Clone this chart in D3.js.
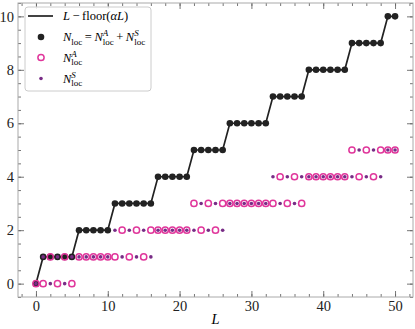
<!DOCTYPE html>
<html>
<head>
<meta charset="utf-8">
<script src="https://cdn.jsdelivr.net/npm/d3@7"></script>
<style>
  body { margin: 0; background: #fff; }
  svg { display: block; font-family: "Liberation Serif", "DejaVu Serif", serif; }
</style>
</head>
<body>
<script>
// system sizes L = 0..50
var L = d3.range(0, 51);

// N_loc = L - floor(alpha L)
var nLoc = [0, 1,1,1,1,1, 2,2,2,2,2, 3,3,3,3,3,3, 4,4,4,4,4, 5,5,5,5,5,
            6,6,6,6,6,6, 7,7,7,7,7, 8,8,8,8,8,8, 9,9,9,9,9, 10,10];
// N_loc^A (open circles)
var nA = [0,0,1,0,1,0, 1,1,1,1,1, 1,2,1,2,1,2, 2,2,2,2,2, 3,2,3,2,3,
          3,3,3,3,3,3, 3,4,3,4,3, 4,4,4,4,4,4, 5,4,5,4,5, 5,5];
// N_loc^S (small dots)
var nS = [0,1,0,1,0,1, 1,1,1,1,1, 2,1,2,1,2,1, 2,2,2,2,2, 2,3,2,3,2,
          3,3,3,3,3,3, 4,3,4,3,4, 4,4,4,4,4,4, 4,5,4,5,4, 5,5];

var xMajor = [0, 10, 20, 30, 40, 50];
var xMinor = d3.range(-2, 53, 2);
var yMajor = [0, 2, 4, 6, 8, 10];
var yMinor = d3.range(-0.5, 10.51, 0.5);

var W = 415, H = 329;
var x0 = 18, x1 = 413, y0 = 3, y1 = 297;

var colLine = "#222222";
var colA = "#e0369b";
var colS = "#782c86";
var colSpine = "#aaaaaa";
var colTick = "#666666";

var svg = d3.select("body").append("svg").attr("width", W).attr("height", H);

var x = d3.scaleLinear().domain([-2.5, 52.5]).range([x0, x1]);
var y = d3.scaleLinear().domain([-0.5, 10.5]).range([y1, y0]);

//==============================================================================
// axes, all ticks pointing inwards on four sides

function styleAxis(g) {
    g.select(".domain").remove();
    g.selectAll(".tick line").attr("stroke", colTick).attr("stroke-width", 0.9);
    g.selectAll(".tick text").attr("fill", "#222").style("font-size", "14.5px")
        .style("font-family", "'Liberation Serif', serif");
}

svg.append("g").attr("transform", "translate(0," + y1 + ")")
    .call(d3.axisBottom(x).tickValues(xMinor).tickSize(-3).tickFormat("")).call(styleAxis);
svg.append("g").attr("transform", "translate(0," + y1 + ")")
    .call(d3.axisBottom(x).tickValues(xMajor).tickSize(-6).tickPadding(4).tickFormat(d3.format("d"))).call(styleAxis);
svg.append("g").attr("transform", "translate(0," + y0 + ")")
    .call(d3.axisTop(x).tickValues(xMinor).tickSize(-3).tickFormat("")).call(styleAxis);
svg.append("g").attr("transform", "translate(0," + y0 + ")")
    .call(d3.axisTop(x).tickValues(xMajor).tickSize(-6).tickFormat("")).call(styleAxis);

svg.append("g").attr("transform", "translate(" + x0 + ",0)")
    .call(d3.axisLeft(y).tickValues(yMinor).tickSize(-3).tickFormat("")).call(styleAxis);
svg.append("g").attr("transform", "translate(" + x0 + ",0)")
    .call(d3.axisLeft(y).tickValues(yMajor).tickSize(-6).tickPadding(4).tickFormat(d3.format("d"))).call(styleAxis);
svg.append("g").attr("transform", "translate(" + x1 + ",0)")
    .call(d3.axisRight(y).tickValues(yMinor).tickSize(-3).tickFormat("")).call(styleAxis);
svg.append("g").attr("transform", "translate(" + x1 + ",0)")
    .call(d3.axisRight(y).tickValues(yMajor).tickSize(-6).tickFormat("")).call(styleAxis);

svg.append("rect")
    .attr("x", x0).attr("y", y0).attr("width", x1 - x0).attr("height", y1 - y0)
    .attr("fill", "none").attr("stroke", colSpine).attr("stroke-width", 1);

svg.append("text")
    .attr("x", x(25)).attr("y", 324)
    .attr("text-anchor", "middle")
    .style("font-style", "italic").style("font-size", "14.5px")
    .text("L");

//==============================================================================
// data marks

var plot = svg.append("g");

plot.append("path")
    .datum(L)
    .attr("fill", "none").attr("stroke", colLine).attr("stroke-width", 1.7)
    .attr("d", d3.line().x(function(d) { return x(d); }).y(function(d, i) { return y(nLoc[i]); }));

plot.selectAll("circle.tot").data(L).join("circle").attr("class", "tot")
    .attr("cx", function(d) { return x(d); })
    .attr("cy", function(d, i) { return y(nLoc[i]); })
    .attr("r", 3.3).attr("fill", colLine);

plot.selectAll("circle.na").data(L).join("circle").attr("class", "na")
    .attr("cx", function(d) { return x(d); })
    .attr("cy", function(d, i) { return y(nA[i]); })
    .attr("r", 3.1).attr("fill", "none").attr("stroke", colA).attr("stroke-width", 1.5);

plot.selectAll("circle.ns").data(L).join("circle").attr("class", "ns")
    .attr("cx", function(d) { return x(d); })
    .attr("cy", function(d, i) { return y(nS[i]); })
    .attr("r", 1.8).attr("fill", colS);

//==============================================================================
// legend with stacked sub/superscripts

var leg = svg.append("g");
leg.append("rect")
    .attr("x", 25).attr("y", 7).attr("width", 126).attr("height", 84).attr("rx", 3)
    .attr("fill", "white").attr("fill-opacity", 0.85)
    .attr("stroke", "#cccccc").attr("stroke-width", 1);

var FS = 12.5, FSS = 9;

function rich(g, xs, ys, parts) {
    var cx = xs;
    parts.forEach(function(p) {
        if (p.sub !== undefined) {
            var t1 = g.append("text").attr("x", cx).attr("y", ys + 3.5)
                .style("font-size", FSS + "px").text(p.sub);
            var w = t1.node().getComputedTextLength();
            if (p.sup) {
                var t2 = g.append("text").attr("x", cx).attr("y", ys - 5)
                    .style("font-size", FSS + "px").style("font-style", "italic").text(p.sup);
                w = Math.max(w, t2.node().getComputedTextLength());
            }
            cx += w;
        } else {
            var t = g.append("text").attr("x", cx).attr("y", ys)
                .style("font-size", FS + "px").text(p.t);
            if (p.it) t.style("font-style", "italic");
            cx += t.node().getComputedTextLength();
        }
    });
}

leg.append("line").attr("x1", 28).attr("x2", 53).attr("y1", 16).attr("y2", 16)
    .attr("stroke", colLine).attr("stroke-width", 1.7);
rich(leg, 63, 20, [{t: "L", it: true}, {t: "\u2009\u2212\u2009"}, {t: "floor("}, {t: "\u03b1L", it: true}, {t: ")"}]);

leg.append("circle").attr("cx", 41).attr("cy", 37).attr("r", 3.3).attr("fill", colLine);
rich(leg, 63, 41, [{t: "N", it: true}, {sub: "loc"}, {t: "\u2009=\u2009"}, {t: "N", it: true}, {sub: "loc", sup: "A"},
                   {t: "\u2009+\u2009"}, {t: "N", it: true}, {sub: "loc", sup: "S"}]);

leg.append("circle").attr("cx", 41).attr("cy", 57.5).attr("r", 3.1)
    .attr("fill", "none").attr("stroke", colA).attr("stroke-width", 1.5);
rich(leg, 63, 61.5, [{t: "N", it: true}, {sub: "loc", sup: "A"}]);

leg.append("circle").attr("cx", 41).attr("cy", 78.5).attr("r", 1.8).attr("fill", colS);
rich(leg, 63, 82.5, [{t: "N", it: true}, {sub: "loc", sup: "S"}]);
</script>
</body>
</html>
